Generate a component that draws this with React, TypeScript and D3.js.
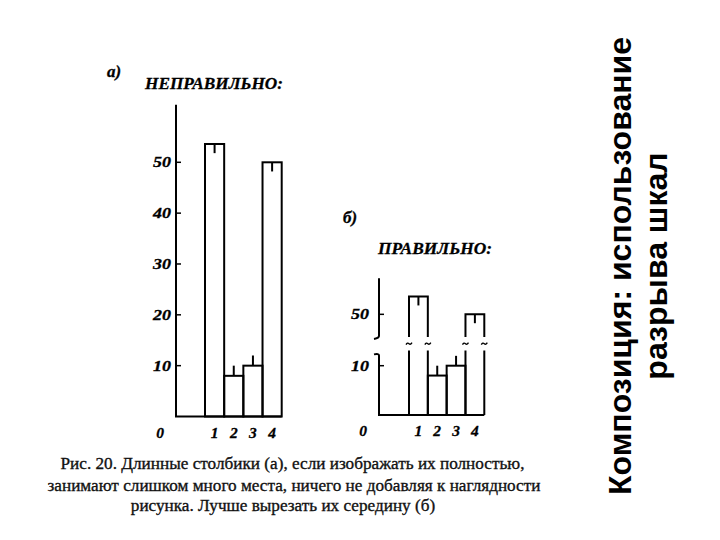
import React, { useRef, useEffect } from "react";
import * as d3 from "d3";

// Bar values
const categories = ["1", "2", "3", "4"];
const values = [53.6, 8, 10, 50];
// one-sided error marks: negative = drawn down inside the bar, positive = drawn up
const errors = [-1.8, 2, 2, -1.8];

const leftTicks = [10, 20, 30, 40, 50];
const rightLowerTicks = [10];
const rightUpperTicks = [50];

const captionLines = [
  "Рис. 20. Длинные столбики (а), если изображать их полностью,",
  "занимают слишком много места, ничего не добавляя к наглядности",
  "рисунка. Лучше вырезать их середину (б)",
];
const titleLines = ["Композиция: использование", "разрыва шкал"];

const labelFont = "'Liberation Serif', 'Times New Roman', serif";

const App: React.FC = () => {
  const ref = useRef<SVGSVGElement | null>(null);

  useEffect(() => {
    const svg = d3.select(ref.current);
    svg.selectAll("*").remove();

    const sw = 2;

    const italicText = (g: any, x: number, y: number, size: number, txt: string) =>
      g.append("text")
        .attr("x", x).attr("y", y)
        .attr("font-family", labelFont)
        .attr("font-style", "italic").attr("font-weight", "bold")
        .attr("font-size", size)
        .attr("stroke", "#000").attr("stroke-width", 0.3)
        .text(txt);

    // ---------- a) full scale ----------
    const ga = svg.append("g");
    const xa = d3.scaleBand<string>().domain(categories).range([205, 281.7]).padding(0);
    const ya = d3.scaleLinear().domain([0, 50]).range([416.5, 162.3]);
    const axX = 176;

    ga.append("line")
      .attr("x1", axX).attr("x2", axX)
      .attr("y1", ya(0)).attr("y2", ya(61.3))
      .attr("stroke", "#000").attr("stroke-width", sw);
    ga.append("line")
      .attr("x1", axX - 1).attr("x2", xa.range()[1])
      .attr("y1", ya(0)).attr("y2", ya(0))
      .attr("stroke", "#000").attr("stroke-width", sw);

    leftTicks.forEach((t) => {
      ga.append("line")
        .attr("x1", axX).attr("x2", axX + 5)
        .attr("y1", ya(t)).attr("y2", ya(t))
        .attr("stroke", "#000").attr("stroke-width", 1.5);
      italicText(ga, axX - 5, ya(t) + 5, 15, String(t))
        .attr("text-anchor", "end")
        .attr("transform", `translate(${axX - 5},0) scale(1.2,1) translate(${-(axX - 5)},0)`);
    });

    ga.selectAll("rect.bar")
      .data(values)
      .enter()
      .append("rect")
      .attr("x", (_, i) => xa(categories[i])!)
      .attr("width", xa.bandwidth())
      .attr("y", (d) => ya(d))
      .attr("height", (d) => ya(0) - ya(d))
      .attr("fill", "none")
      .attr("stroke", "#000")
      .attr("stroke-width", sw);

    ga.selectAll("line.err")
      .data(values)
      .enter()
      .append("line")
      .attr("x1", (_, i) => xa(categories[i])! + xa.bandwidth() / 2)
      .attr("x2", (_, i) => xa(categories[i])! + xa.bandwidth() / 2)
      .attr("y1", (d) => ya(d))
      .attr("y2", (d, i) => ya(d + errors[i]))
      .attr("stroke", "#000")
      .attr("stroke-width", sw);

    const catLabel = (g: any, x: (c: string) => number, y: number, x0: number) => {
      italicText(g, x0, y, 15.5, "0").attr("text-anchor", "middle");
      categories.forEach((c) => {
        italicText(g, x(c), y, 15.5, c).attr("text-anchor", "middle");
      });
    };
    catLabel(ga, (c) => xa(c)! + xa.bandwidth() / 2, 438, 160);

    italicText(ga, 107, 77, 17, "а)");
    italicText(ga, 145, 89, 17, "НЕПРАВИЛЬНО:")
      .attr("textLength", 138)
      .attr("lengthAdjust", "spacingAndGlyphs");

    // ---------- б) broken scale ----------
    const gb = svg.append("g");
    const xb = d3.scaleBand<string>().domain(categories).range([409, 484.3]).padding(0);
    const yLow = d3.scaleLinear().domain([0, 10]).range([415, 365.7]);
    const yUp = d3.scaleLinear().domain([45, 55]).range([339, 289.65]);
    const bX = 379;
    const lowMax = 12.5; // top of the lower axis piece
    const upMin = 45.2; // bottom of the upper axis piece
    const upMax = 57.3;

    // lower axis piece with hook at its top
    gb.append("path")
      .attr("d", `M${bX},${yLow(0)} L${bX},${yLow(lowMax) + 2} Q${bX},${yLow(lowMax)} ${bX - 5},${yLow(lowMax) + 1}`)
      .attr("fill", "none").attr("stroke", "#000").attr("stroke-width", sw);
    // upper axis piece with hook at its bottom
    gb.append("path")
      .attr("d", `M${bX},${yUp(upMax)} L${bX},${yUp(upMin) - 2} Q${bX},${yUp(upMin)} ${bX - 5},${yUp(upMin) + 1}`)
      .attr("fill", "none").attr("stroke", "#000").attr("stroke-width", sw);
    gb.append("line")
      .attr("x1", bX - 1).attr("x2", xb.range()[1])
      .attr("y1", yLow(0)).attr("y2", yLow(0))
      .attr("stroke", "#000").attr("stroke-width", sw);

    const tickB = (t: number, y: number) => {
      gb.append("line")
        .attr("x1", bX).attr("x2", bX + 5)
        .attr("y1", y).attr("y2", y)
        .attr("stroke", "#000").attr("stroke-width", 1.5);
      italicText(gb, bX - 10, y + 5, 15, String(t))
        .attr("text-anchor", "end")
        .attr("transform", `translate(${bX - 10},0) scale(1.2,1) translate(${-(bX - 10)},0)`);
    };
    rightLowerTicks.forEach((t) => tickB(t, yLow(t)));
    rightUpperTicks.forEach((t) => tickB(t, yUp(t)));

    const tilde = (x: number, y: number) =>
      `M${x - 3},${y + 1} Q${x - 1.5},${y - 1.5} ${x},${y} T${x + 3},${y - 1}`;

    values.forEach((v, i) => {
      const x0 = xb(categories[i])!;
      const x1 = x0 + xb.bandwidth();
      const xm = x0 + xb.bandwidth() / 2;
      if (v <= lowMax) {
        gb.append("rect")
          .attr("x", x0).attr("width", xb.bandwidth())
          .attr("y", yLow(v)).attr("height", yLow(0) - yLow(v))
          .attr("fill", "none").attr("stroke", "#000").attr("stroke-width", sw);
        gb.append("line")
          .attr("x1", xm).attr("x2", xm)
          .attr("y1", yLow(v)).attr("y2", yLow(v + errors[i]))
          .attr("stroke", "#000").attr("stroke-width", sw);
      } else {
        const yb = yUp(upMin) - 1;
        const yl = yLow(lowMax) - 3;
        gb.append("path")
          .attr("d", `M${x0},${yb} L${x0},${yUp(v)} L${x1},${yUp(v)} L${x1},${yb}`)
          .attr("fill", "none").attr("stroke", "#000").attr("stroke-width", sw);
        gb.append("path")
          .attr("d", `M${x0},${yl} L${x0},${yLow(0)} M${x1},${yl} L${x1},${yLow(0)}`)
          .attr("fill", "none").attr("stroke", "#000").attr("stroke-width", sw);
        [x0, x1].forEach((xx) => {
          gb.append("path")
            .attr("d", tilde(xx, (yb + yl) / 2))
            .attr("fill", "none").attr("stroke", "#000").attr("stroke-width", 1.3);
        });
        gb.append("line")
          .attr("x1", xm).attr("x2", xm)
          .attr("y1", yUp(v)).attr("y2", yUp(v + errors[i]))
          .attr("stroke", "#000").attr("stroke-width", sw);
      }
    });

    catLabel(gb, (c) => xb(c)! + xb.bandwidth() / 2, 436, 363);

    italicText(gb, 343, 223, 17, "б)");
    italicText(gb, 378, 254, 17, "ПРАВИЛЬНО:")
      .attr("textLength", 114)
      .attr("lengthAdjust", "spacingAndGlyphs");

    // ---------- caption ----------
    const capY = [469, 491, 511];
    const capX = [292.5, 294, 283];
    captionLines.forEach((line, i) => {
      svg.append("text")
        .attr("x", capX[i]).attr("y", capY[i])
        .attr("text-anchor", "middle")
        .attr("font-family", labelFont)
        .attr("font-size", 17.2)
        .attr("fill", "#111")
        .attr("stroke", "#111").attr("stroke-width", 0.35)
        .text(line);
    });

    // ---------- rotated title ----------
    const tg = svg.append("g").attr("transform", "rotate(-90)");
    const tY = [631, 667];
    titleLines.forEach((line, i) => {
      tg.append("text")
        .attr("x", -266).attr("y", tY[i])
        .attr("text-anchor", "middle")
        .attr("font-family", "'Liberation Sans', Arial, sans-serif")
        .attr("font-weight", "bold")
        .attr("font-size", 32)
        .text(line);
    });
  }, []);

  return (
    <div style={{ position: "absolute", left: 0, top: 0 }}>
      <svg ref={ref} width={720} height={540} style={{ display: "block", background: "#fff" }} />
    </div>
  );
};

export default App;
